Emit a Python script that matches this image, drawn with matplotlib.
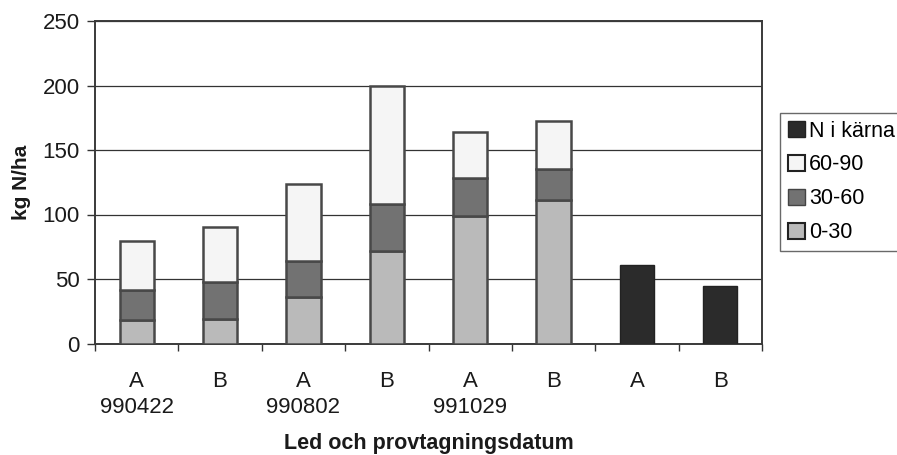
import numpy as np
import matplotlib
matplotlib.use('Agg')
import matplotlib.pyplot as plt
from matplotlib.patches import Patch

plt.rcParams['font.family'] = ['Liberation Sans', 'DejaVu Sans']

# kg N/ha per sampling depth (cm), soil samples A/B on three dates
led = ['A', 'B', 'A', 'B', 'A', 'B', 'A', 'B']
datum = ['990422', '', '990802', '', '991029', '', '', '']
n_0_30 = [18.5, 19, 36, 72, 98.5, 111.5]
n_30_60 = [23, 29, 28, 36, 29.5, 23.5]
n_60_90 = [38, 42.5, 60, 91.5, 36, 37.5]
# N in grain, A and B
n_karna = [60.5, 44.5]

c_0_30 = '#bababa'
c_30_60 = '#727272'
c_60_90 = '#f5f5f5'
c_karna = '#2b2b2b'
edge = '#484848'

fig = plt.figure(figsize=(8.97, 4.55), dpi=100)
ax = fig.add_axes([95/897, (455-343.5)/455, (762-95)/897, (343.5-21)/455])

x_soil = np.arange(len(n_0_30))
x_karna = np.arange(len(n_0_30), len(led))
w = 0.41
bot1 = np.array(n_0_30)
bot2 = bot1 + np.array(n_30_60)
ax.bar(x_soil, n_0_30, w, color=c_0_30, edgecolor=edge, linewidth=1.8, zorder=3)
ax.bar(x_soil, n_30_60, w, bottom=bot1, color=c_30_60, edgecolor=edge, linewidth=1.8, zorder=3)
ax.bar(x_soil, n_60_90, w, bottom=bot2, color=c_60_90, edgecolor=edge, linewidth=1.8, zorder=3)
ax.bar(x_karna, n_karna, w, color=c_karna, edgecolor='#222222', linewidth=1.0, zorder=3)

ax.set_xlim(-0.5, len(led) - 0.5)
ax.set_ylim(0, 250)
ax.set_yticks(np.arange(0, 251, 50))
ax.yaxis.grid(True, color='#333333', linewidth=0.9)
ax.set_axisbelow(True)

# labels centred under the bars, tick marks between the groups
ax.set_xticks(np.arange(-0.5, len(led), 1.0))
ax.set_xticklabels([])
ax.set_xticks(np.arange(len(led)), minor=True)
ax.set_xticklabels([l + '\n' + d for l, d in zip(led, datum)], minor=True,
                   va='top', linespacing=1.3)
ax.tick_params(axis='x', which='major', length=5, width=1, color='#333333', direction='out')
ax.tick_params(axis='x', which='minor', length=0, pad=20, labelsize=16, colors='#1a1a1a')
ax.tick_params(axis='y', length=6, width=1, color='#333333', labelsize=16, pad=5,
               colors='#1a1a1a')
for s in ax.spines.values():
    s.set_color('#3a3a3a')
    s.set_linewidth(1.4)

ax.set_ylabel('kg N/ha', fontsize=15, fontweight='bold', color='#1a1a1a', labelpad=8)
ax.set_xlabel('Led och provtagningsdatum', fontsize=15.5, fontweight='bold',
              color='#1a1a1a', labelpad=11)

handles = [Patch(facecolor=c_karna, edgecolor='#222222', label='N i kärna'),
           Patch(facecolor=c_60_90, edgecolor='#222222', linewidth=1.5, label='60-90'),
           Patch(facecolor=c_30_60, edgecolor='#444444', label='30-60'),
           Patch(facecolor=c_0_30, edgecolor='#222222', linewidth=1.5, label='0-30')]
leg = fig.legend(handles=handles, loc='upper left', bbox_to_anchor=(780/897, 1 - 113/455),
                 fontsize=15.5, fancybox=False, frameon=True, edgecolor='#444444',
                 handlelength=0.8, handleheight=0.8, handletextpad=0.2,
                 labelspacing=0.6, borderpad=0.35, borderaxespad=0)
leg.get_frame().set_linewidth(1.0)

fig.savefig('out.png', dpi=100)
